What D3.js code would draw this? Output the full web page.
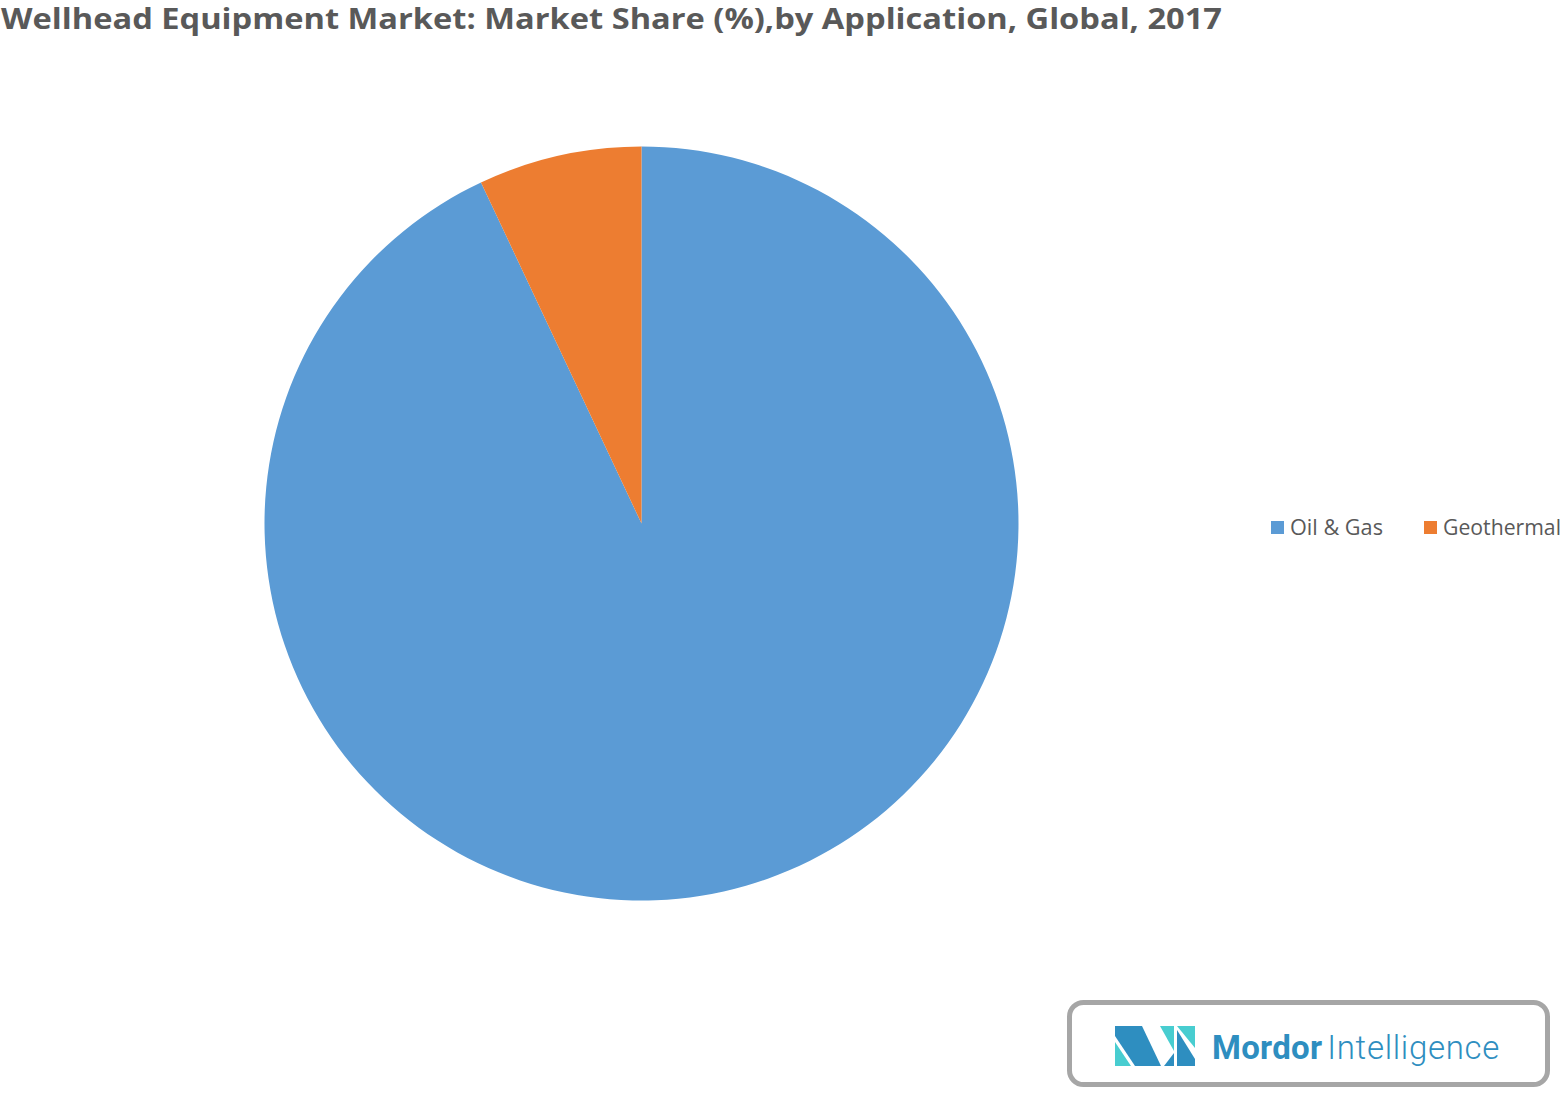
<!DOCTYPE html>
<html>
<head>
<meta charset="utf-8">
<script src="https://cdn.jsdelivr.net/npm/d3@7"></script>
<style>
  body { margin: 0; background: #fff; }
  svg { display: block; }
</style>
</head>
<body>
<div id="chart"></div>
<script>
const categories = ['Oil & Gas', 'Geothermal']
const shares = [93, 7]
const colors = ['#5b9bd5', '#ed7d31']

const W = 1564, H = 1093

const svg = d3.select('#chart').append('svg')
    .attr('width', W)
    .attr('height', H)

// title
svg.append('text')
    .attr('x', 1)
    .attr('y', 29)
    .attr('font-family', 'Open Sans, sans-serif')
    .attr('font-weight', 700)
    .attr('font-size', 28)
    .attr('fill', '#595959')
    .attr('textLength', 1221)
    .attr('lengthAdjust', 'spacingAndGlyphs')
    .text('Wellhead Equipment Market: Market Share (%),by Application, Global, 2017')

// pie
const data = categories.map((c, i) => ({name: c, value: shares[i]}))
const color = d3.scaleOrdinal(categories, colors)
const pie = d3.pie().value(d => d.value).sort(null)
const arc = d3.arc().innerRadius(0).outerRadius(377)

svg.append('g')
    .attr('transform', 'translate(641.5,523.5)')
    .selectAll('path')
    .data(pie(data))
    .enter()
    .append('path')
        .attr('d', arc)
        .attr('fill', d => color(d.data.name))

// legend
const legendX = [1271, 1424]
const legendW = [93, 118]
const legend = svg.selectAll('.legend')
    .data(data)
    .enter()
    .append('g')
    .attr('class', 'legend')
    .attr('transform', (d, i) => `translate(${legendX[i]},521)`)

legend.append('rect')
    .attr('width', 13)
    .attr('height', 13)
    .attr('fill', d => color(d.name))

legend.append('text')
    .attr('x', 19)
    .attr('y', 13.5)
    .attr('font-family', 'Open Sans, sans-serif')
    .attr('font-size', 21)
    .attr('fill', '#595959')
    .attr('textLength', (d, i) => legendW[i])
    .attr('lengthAdjust', 'spacingAndGlyphs')
    .text(d => d.name)

// logo box
const logo = svg.append('g')
logo.append('rect')
    .attr('x', 1069.5)
    .attr('y', 1002.5)
    .attr('width', 478)
    .attr('height', 82)
    .attr('rx', 14)
    .attr('fill', '#fff')
    .attr('stroke', '#a6a6a6')
    .attr('stroke-width', 5)

const dark = '#2e8ec0', teal = '#48cdd0'
const ix = 1115, iy = 1026
const polys = [
    {c: dark, p: [[0,0],[27,0],[46,40],[20,40],[0,10]]},
    {c: teal, p: [[0,16],[16,40],[0,40]]},
    {c: teal, p: [[45,0],[59,0],[59,25]]},
    {c: dark, p: [[49,40],[59,27],[59,40]]},
    {c: teal, p: [[62,0],[80,0],[80,22]]},
    {c: dark, p: [[62,4],[80,33],[80,40],[62,40]]}
]
logo.selectAll('.icon')
    .data(polys)
    .enter()
    .append('polygon')
        .attr('points', d => d.p.map(q => [ix + q[0], iy + q[1]].join(',')).join(' '))
        .attr('fill', d => d.c)

const logoText = logo.append('text')
    .attr('x', 1212)
    .attr('y', 1059)
    .attr('font-family', 'Roboto, sans-serif')
    .attr('font-size', 33)
    .attr('fill', dark)
logoText.append('tspan')
    .attr('font-weight', 700)
    .attr('textLength', 110)
    .text('Mordor')
logoText.append('tspan')
    .attr('dx', 5)
    .attr('font-weight', 300)
    .attr('textLength', 172)
    .text('Intelligence')
</script>
</body>
</html>
